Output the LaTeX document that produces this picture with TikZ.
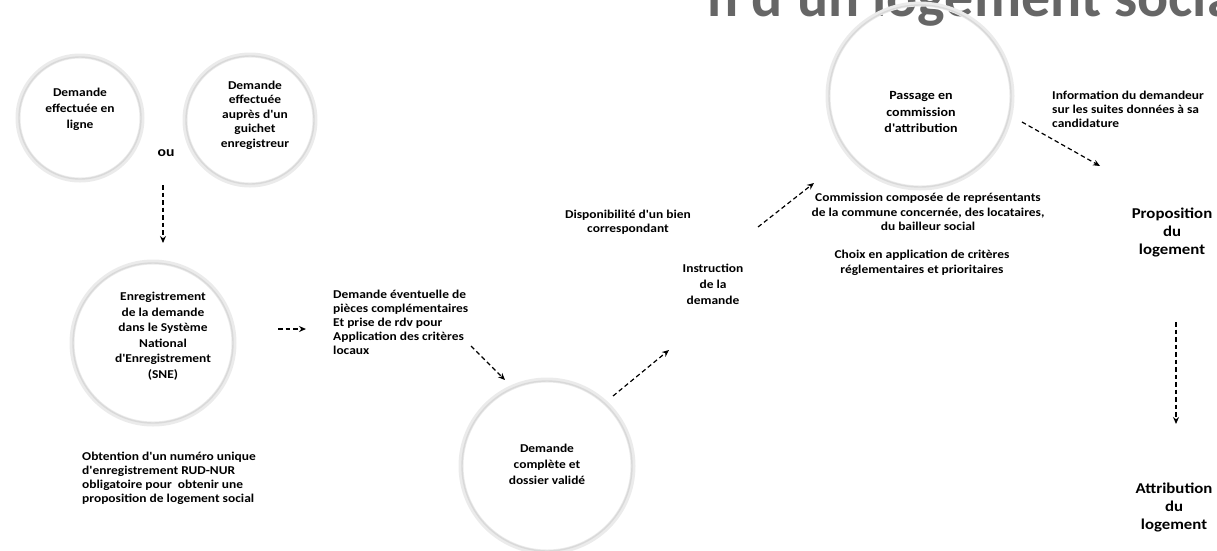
\documentclass[tikz,border=0pt]{standalone}
\usepackage{fontspec}
\setmainfont{Carlito}
\newfontfamily\widefont[FakeStretch=1.12]{Carlito}
\usetikzlibrary{arrows.meta}
\tikzset{
  stage/.style={circle, minimum size=#1, draw=gray!16, line width=5pt, inner sep=0pt},
  stagein/.style={circle, minimum size=#1, draw=gray!30, line width=1.4pt, inner sep=0pt},
  lbl/.style={font=\widefont\bfseries\fontsize{12}{14.5}\selectfont, align=center, inner sep=0pt},
  lblL/.style={font=\widefont\bfseries\fontsize{12}{14}\selectfont, align=left, inner sep=0pt},
  big/.style={font=\widefont\bfseries\fontsize{15}{18}\selectfont, align=center, inner sep=0pt},
  flow/.style={dashed, dash pattern=on 4.5pt off 3pt, line width=1.2pt, -{Stealth[length=7pt,width=6pt]}}
}
\begin{document}
\begin{tikzpicture}[x=1pt,y=-1pt]
\useasboundingbox (0,0) rectangle (1217,550);
% clipped title
\node[anchor=base east, font=\bfseries\fontsize{58}{58}\selectfont, text=gray!80!black, inner sep=0pt] (title) at (1250,16) {n d'un logement social};
% circles
\node[stage=124pt] (c1) at (80,118) {};
\node[stagein=122pt] at (80,118) {};
\node[stage=130pt] (c2) at (250,120) {};
\node[stagein=128pt] at (250,120) {};
\node[stage=162pt] (c3) at (153,343) {};
\node[stagein=160pt] at (153,343) {};
\node[stage=172pt] (c4) at (547,466) {};
\node[stagein=170pt] at (547,466) {};
\node[stage=184pt] (c5) at (920,96) {};
\node[stagein=182pt] at (920,96) {};
% texts
\node[lbl, font=\widefont\bfseries\fontsize{12}{16}\selectfont] (t1) at (80,109) {Demande\\effectuée en\\ligne};
\node[lbl] (t2) at (255,115) {Demande\\effectuée\\auprès d'un\\guichet\\enregistreur};
\node[font=\widefont\bfseries\fontsize{14}{16}\selectfont, inner sep=0pt] (ou) at (166,153) {ou};
\node[lbl, font=\widefont\bfseries\fontsize{12}{15.5}\selectfont] (t3) at (163,336) {Enregistrement\\de la demande\\dans le Système\\National\\d'Enregistrement\\(SNE)};
\node[lblL, anchor=north west] (t3b) at (82,452) {Obtention d'un numéro unique\\d'enregistrement RUD-NUR\\obligatoire pour \ obtenir une\\proposition de logement social};
\node[lblL, anchor=north west] (t4) at (333,290) {Demande éventuelle de\\pièces complémentaires\\Et prise de rdv pour\\Application des critères\\locaux};
\node[lbl, font=\widefont\bfseries\fontsize{12}{16}\selectfont] (t5) at (547,464) {Demande\\complète et\\dossier validé};
\node[lbl, font=\widefont\bfseries\fontsize{12}{16}\selectfont] (t6) at (713,284) {Instruction\\de la\\demande};
\node[lbl] (t7) at (628,222) {Disponibilité d'un bien\\correspondant};
\node[lbl, font=\widefont\bfseries\fontsize{12.5}{16.5}\selectfont] (t8) at (921,112) {Passage en\\commission\\d'attribution};
\node[lblL, anchor=north west] (t9) at (1052,91) {Information du demandeur\\sur les suites données à sa\\candidature};
\node[lbl] (t10) at (928,212) {Commission composée de représentants\\de la commune concernée, des locataires,\\du bailleur social};
\node[lbl] (t11) at (922,263) {Choix en application de critères\\réglementaires et prioritaires};
\node[big] (t12) at (1172,232) {Proposition\\du\\logement};
\node[big] (t13) at (1174,507) {Attribution\\du\\logement};
% connectors
\coordinate (a1s) at (163,185); \coordinate (a1e) at (163,243);
\draw[flow] (a1s) -- (a1e);
\coordinate (a2s) at (278,329); \coordinate (a2e) at (306,329);
\draw[flow] (a2s) -- (a2e);
\coordinate (a3s) at (471,346); \coordinate (a3e) at (505,380);
\draw[flow] (a3s) -- (a3e);
\coordinate (a4s) at (613,396); \coordinate (a4e) at (669,350);
\draw[flow] (a4s) -- (a4e);
\coordinate (a5s) at (758,227); \coordinate (a5e) at (814,183);
\draw[flow] (a5s) -- (a5e);
\coordinate (a6s) at (1022,122); \coordinate (a6e) at (1100,166);
\draw[flow] (a6s) -- (a6e);
\coordinate (a7s) at (1176,322); \coordinate (a7e) at (1176,424);
\draw[flow] (a7s) -- (a7e);
\end{tikzpicture}
\end{document}
